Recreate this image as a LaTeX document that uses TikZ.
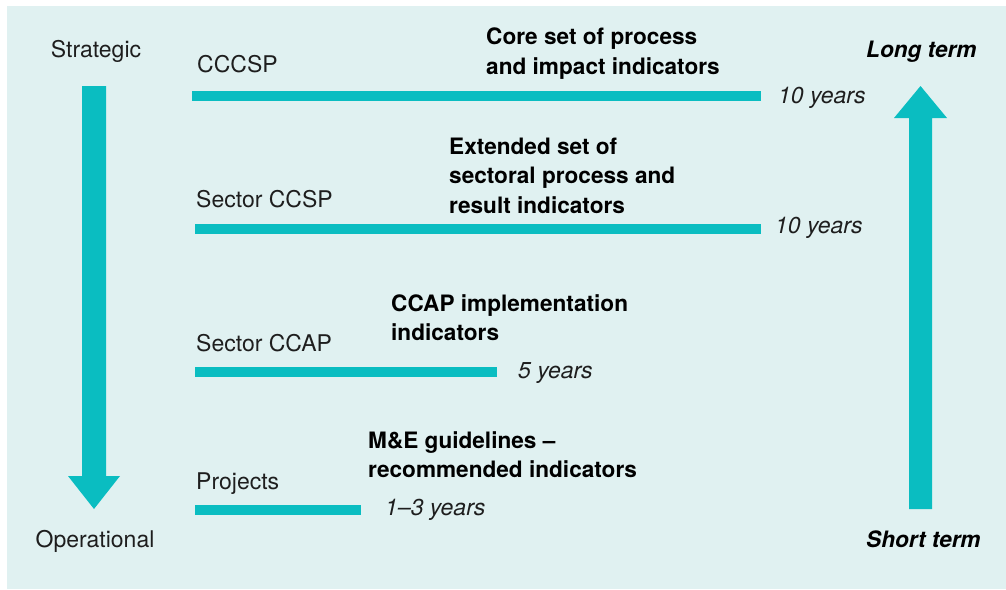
\documentclass[tikz,border=0pt]{standalone}
\usepackage{fontspec}
\setmainfont{TeX Gyre Heros}
\definecolor{bgc}{RGB}{224,241,241}
\definecolor{tealc}{RGB}{10,189,193}
\definecolor{txt}{RGB}{30,30,30}
\begin{document}
\begin{tikzpicture}[x=1pt,y=-1pt,
  lbl/.style={anchor=base west, inner sep=0pt, text=txt, font=\fontsize{23}{30}\selectfont},
  endlbl/.style={anchor=base, inner sep=0pt, text=txt, font=\fontsize{23}{30}\selectfont},
  bold/.style={anchor=base west, inner sep=0pt, text=black, font=\fontsize{22.6}{29.5}\selectfont\bfseries},
  term/.style={anchor=base west, inner sep=0pt, text=black, font=\fontsize{22.6}{30}\selectfont\bfseries\itshape},
  yrs/.style={anchor=base west, inner sep=0pt, text=txt, font=\fontsize{23}{30}\selectfont\itshape},
  bar/.style={draw=tealc, line width=10pt},
  bigarrow/.style={fill=tealc}]
\useasboundingbox (0,0) rectangle (1006,589);
\fill[bgc] (7,6) rectangle (1006,589);

% vertical arrows
\fill[bigarrow] (82,86) -- (106,86) -- (106,476) -- (120,476) -- (94,509) -- (68,476) -- (82,476) -- cycle;
\fill[bigarrow] (909,509) -- (932,509) -- (932,118) -- (947,118) -- (920.5,86) -- (894,118) -- (909,118) -- cycle;

\node[endlbl] (strategic) at (96,57) {Strategic};
\node[endlbl] (operational) at (95,547) {Operational};
\node[term] (long) at (866,57) {Long term};
\node[term] (short) at (866,547) {Short term};

% CCCSP
\coordinate (a1) at (192,96); \coordinate (a2) at (761,96);
\draw[bar] (a1) -- (a2);
\node[lbl] (cccsp) at (197,72) {CCCSP};
\node[bold] (core) at (486,44.5) {\begin{tabular}[t]{@{}l@{}}Core set of process\\and impact indicators\end{tabular}};
\node[yrs] (y1) at (778,103) {10 years};

% Sector CCSP
\coordinate (b1) at (195,229); \coordinate (b2) at (761,229);
\draw[bar] (b1) -- (b2);
\node[lbl] (ccsp) at (196,207) {Sector CCSP};
\node[bold] (ext) at (449,154) {\begin{tabular}[t]{@{}l@{}}Extended set of\\sectoral process and\\result indicators\end{tabular}};
\node[yrs] (y2) at (775,233) {10 years};

% Sector CCAP
\coordinate (c1) at (195,372); \coordinate (c2) at (497,372);
\draw[bar] (c1) -- (c2);
\node[lbl] (ccap) at (196,351) {Sector CCAP};
\node[bold] (impl) at (391,311) {\begin{tabular}[t]{@{}l@{}}CCAP implementation\\indicators\end{tabular}};
\node[yrs] (y3) at (518,378) {5 years};

% Projects
\coordinate (d1) at (195,509.5); \coordinate (d2) at (361,509.5);
\draw[bar] (d1) -- (d2);
\node[lbl] (proj) at (196,489) {Projects};
\node[bold] (me) at (368,448) {\begin{tabular}[t]{@{}l@{}}M\&E guidelines --\\recommended indicators\end{tabular}};
\node[yrs] (y4) at (385,515) {1--3 years};
\end{tikzpicture}
\end{document}
